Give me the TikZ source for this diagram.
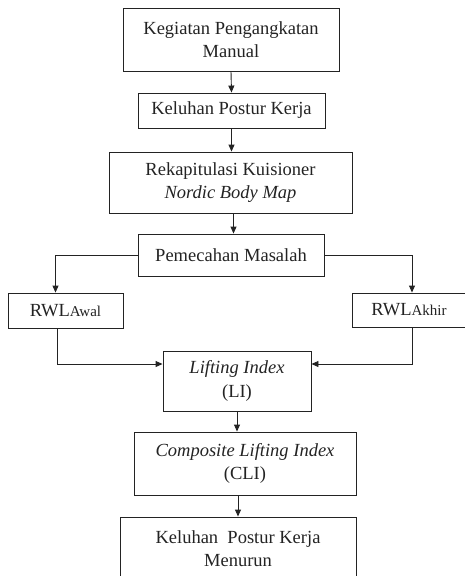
\documentclass[tikz,border=0pt]{standalone}
\usepackage{fontspec}
\setmainfont{Liberation Serif}
\usetikzlibrary{arrows.meta}
\definecolor{dgray}{RGB}{35,35,35}

\begin{document}
\begin{tikzpicture}[x=1pt, y=-1pt,
  box/.style={draw=dgray, line width=0.9pt, align=center, inner sep=0pt,
  font=\fontsize{18.5}{23.5}\selectfont, text=dgray},
  arr/.style={-{Triangle[width=6pt, length=7pt]}, line width=0.9pt, dgray}
]
\useasboundingbox (0,0) rectangle (465,576);
\clip (0,0) rectangle (465,576);
\node[box, minimum width=216, minimum height=63] (keg)  at (231, 39.5) {Kegiatan Pengangkatan\\Manual};
\node[box, minimum width=187, minimum height=35] (kel)  at (231.5, 110.5) {Keluhan Postur Kerja};
\node[box, minimum width=243, minimum height=61] (nbm)  at (230.5, 182.5) {Rekapitulasi Kuisioner\\\textit{Nordic Body Map}};
\node[box, minimum width=186, minimum height=42] (pem)  at (231, 255) {Pemecahan Masalah};
\node[box, minimum width=115, minimum height=35] (awal) at (65.5, 310.5) {RWL{\fontsize{15}{17}\selectfont Awal}};
\node[box, minimum width=114, minimum height=34] (akh)  at (409, 310) {RWL{\fontsize{15}{17}\selectfont Akhir}};
\node[box, minimum width=148, minimum height=60] (li)   at (237, 381) {\textit{Lifting Index}\\(LI)};
\node[box, minimum width=222, minimum height=63] (cli)  at (245, 463.5) {\textit{Composite Lifting Index}\\(CLI)};
\node[box, minimum width=236, minimum height=63] (turun) at (238, 548.5) {Keluhan\ \ Postur Kerja\\Menurun};
\draw[arr] (keg.south) -- (kel.north);
\draw[arr] (kel.south) -- (kel.south |- nbm.north);
\draw[arr] ([xshift=3pt]nbm.south) -- ([xshift=3pt]nbm.south |- pem.north);
\draw[arr] (pem.west) -| ([xshift=-10pt]awal.north);
\draw[arr] (pem.east) -| ([xshift=3pt]akh.north);
\draw[arr] ([xshift=-8pt]awal.south) |- ([yshift=17pt]li.west);
\draw[arr] ([xshift=3pt]akh.south) |- ([yshift=17pt]li.east);
\draw[arr] (li.south) -- (li.south |- cli.north);
\draw[arr] ([xshift=-7pt]cli.south) -- ([xshift=-7pt]cli.south |- turun.north);
\end{tikzpicture}
\end{document}
